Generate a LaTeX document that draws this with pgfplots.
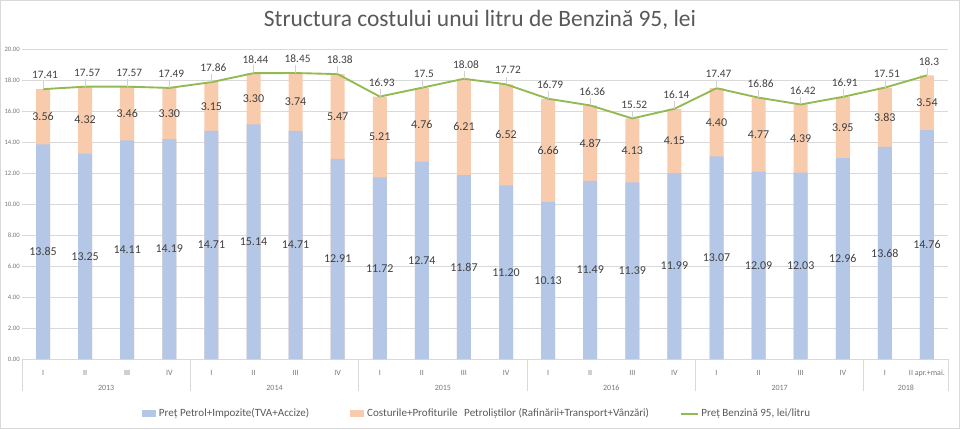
\documentclass[border=0pt]{standalone}
\usepackage{pgfplots}
\pgfplotsset{compat=1.18}
\usepackage{pgfplotstable}
\usepackage{fontspec}
\setmainfont{Carlito}

\definecolor{barblue}{RGB}{180,199,231}
\definecolor{barpeach}{RGB}{248,203,173}
\definecolor{linegreen}{RGB}{146,186,82}
\definecolor{gridgray}{RGB}{217,217,217}
\definecolor{txtgray}{RGB}{89,89,89}
\definecolor{tickgray}{RGB}{118,118,118}
\definecolor{lblgray}{RGB}{64,64,64}

\pgfplotsset{
  barlegend/.style={legend image code/.code={\fill[##1] (0pt,-2.6pt) rectangle (10.5pt,2.6pt);}},
  linelegend/.style={legend image code/.code={\draw[##1] (0pt,0pt) -- (12.75pt,0pt);}},
}

% quarterly structure of the price of one litre of petrol 95 (lei)
\pgfplotstableread{
x  blue   peach  total
0  13.85  3.56   17.41
1  13.25  4.32   17.57
2  14.11  3.46   17.57
3  14.19  3.30   17.49
4  14.71  3.15   17.86
5  15.14  3.30   18.44
6  14.71  3.74   18.45
7  12.91  5.47   18.38
8  11.72  5.21   16.93
9  12.74  4.76   17.5
10 11.87  6.21   18.08
11 11.20  6.52   17.72
12 10.13  6.66   16.79
13 11.49  4.87   16.36
14 11.39  4.13   15.52
15 11.99  4.15   16.14
16 13.07  4.40   17.47
17 12.09  4.77   16.86
18 12.03  4.39   16.42
19 12.96  3.95   16.91
20 13.68  3.83   17.51
21 14.76  3.54   18.3
}\costdata

\begin{document}
\begin{tikzpicture}
\useasboundingbox (0,0) rectangle (720pt,321.75pt);
\draw[gridgray, line width=0.6pt] (0.3pt,0.3pt) rectangle (719.7pt,321.45pt);
\node[font=\fontsize{17.6}{20}\selectfont, text=txtgray] at (360pt,306.5pt)
  {Structura costului unui litru de Benzină 95, lei};
\begin{axis}[
  at={(16.5pt,52.5pt)}, anchor=south west,
  scale only axis, width=694.5pt, height=232.5pt,
  xmin=-0.5, xmax=21.5, ymin=0, ymax=20,
  clip=false,
  axis line style={draw=none},
  ytick={0,2,...,20},
  ymajorgrids, grid style={gridgray, line width=0.6pt},
  major tick length=0pt,
  /pgf/number format/assume math mode=true,
  yticklabel style={font=\fontsize{5}{6}\selectfont, text=tickgray, inner sep=1.5pt,
    /pgf/number format/fixed, /pgf/number format/fixed zerofill,
    /pgf/number format/precision=2},
  xtick={0,...,21},
  xticklabels={I,II,III,IV,I,II,III,IV,I,II,III,IV,I,II,III,IV,I,II,III,IV,I,II apr.+mai.},
  xticklabel style={font=\fontsize{6}{7}\selectfont, text=tickgray, anchor=center, yshift=-10.5pt},
  extra x ticks={1.5,5.5,9.5,13.5,17.5,20.5},
  extra x tick labels={2013,2014,2015,2016,2017,2018},
  extra x tick style={xticklabel style={yshift=-11.25pt}},
  minor xtick={-0.5,3.5,7.5,11.5,15.5,19.5,21.5},
  minor tick length=24pt,
  tick align=outside,
  xtick pos=bottom, ytick pos=left,
  minor tick style={gridgray, line width=0.6pt},
  legend style={at={(0.1253,-0.177)}, anchor=west, draw=none, fill=none,
    font=\fontsize{8.3}{9}\selectfont, text=txtgray, legend columns=3,
    /tikz/column 2/.style={column sep=29pt},
    /tikz/column 4/.style={column sep=21pt}},
  legend cell align=left,
]
\addlegendimage{barlegend, fill=barblue, draw=none}
\addlegendentry{Preț Petrol+Impozite(TVA+Accize)}
\addlegendimage{barlegend, fill=barpeach, draw=none}
\addlegendentry{Costurile+Profiturile\hspace{5pt}Petroliștilor (Rafinării+Transport+Vânzări)}

% full price as the peach bar, the petrol+tax part drawn over it
\addplot[ybar, bar width=10.5pt, bar shift=0pt, fill=barpeach, draw=none, forget plot]
  table[x=x, y=total] {\costdata};
\addplot[ybar, bar width=10.5pt, bar shift=0pt, fill=barblue, draw=none, forget plot]
  table[x=x, y=blue] {\costdata};

% segment values, centred in each segment
\addplot[draw=none, no markers, forget plot, nodes near coords,
  point meta=explicit symbolic,
  every node near coord/.append style={anchor=center, font=\fontsize{9}{10}\selectfont, text=lblgray}]
  table[x=x, y expr=\thisrow{blue}/2, meta=blue] {\costdata};
\addplot[draw=none, no markers, forget plot, nodes near coords,
  point meta=explicit symbolic,
  every node near coord/.append style={anchor=center, font=\fontsize{9}{10}\selectfont, text=lblgray}]
  table[x=x, y expr=\thisrow{blue}+\thisrow{peach}/2, meta=peach] {\costdata};

% price line with its value labels
\addplot[linegreen, line width=1.4pt, sharp plot, no markers, linelegend,
  error bars/.cd, y dir=plus, y fixed=0.5, error mark=none,
  error bar style={draw=gray!35, line width=0.3pt}]
  table[x=x, y=total] {\costdata};
\addlegendentry{Preț Benzină 95, lei/litru}
\addplot[draw=none, no markers, forget plot, nodes near coords,
  point meta=explicit symbolic,
  every node near coord/.append style={anchor=center, yshift=10.5pt, xshift=1.5pt,
    font=\fontsize{8.5}{9.5}\selectfont, text=lblgray}]
  table[x=x, y=total, meta=total] {\costdata};
\end{axis}
\end{tikzpicture}
\end{document}
